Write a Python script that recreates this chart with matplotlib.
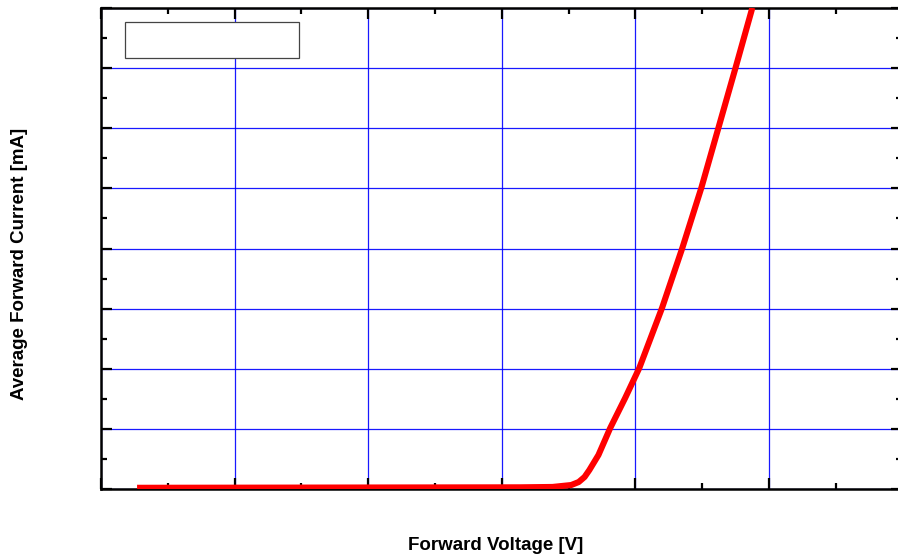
import matplotlib
matplotlib.use('Agg')
import matplotlib.pyplot as plt
from matplotlib.patches import Rectangle
from matplotlib.ticker import MultipleLocator, NullFormatter

plt.rcParams['font.family'] = ['Liberation Sans', 'DejaVu Sans']

# forward characteristic
voltage = [0.135, 1.57, 1.69, 1.76, 1.788, 1.81, 1.828, 1.862, 1.906, 1.962,
           2.015, 2.100, 2.176, 2.247, 2.311, 2.375, 2.438]
current = [0.10, 0.14, 0.17, 0.33, 0.58, 1.00, 1.58, 2.83, 5.07, 7.57,
           10.07, 15.06, 20.05, 25.04, 30.03, 35.02, 40.02]

x_range = (0.0, 3.0)
y_range = (0.0, 40.0)

fig = plt.figure(figsize=(8.98, 5.58), dpi=100)
ax = fig.add_axes([101 / 898, 69 / 558, 801.5 / 898, 481 / 558])

ax.plot(voltage, current, color='#ff0000', lw=4.4, solid_capstyle='butt',
        solid_joinstyle='round', zorder=3)

ax.set_xlim(*x_range)
ax.set_ylim(*y_range)
ax.xaxis.set_major_locator(MultipleLocator(0.5))
ax.xaxis.set_minor_locator(MultipleLocator(0.25))
ax.yaxis.set_major_locator(MultipleLocator(5))
ax.yaxis.set_minor_locator(MultipleLocator(2.5))
ax.xaxis.set_major_formatter(NullFormatter())
ax.yaxis.set_major_formatter(NullFormatter())

ax.grid(True, which='major', color='#0000ff', lw=0.9, alpha=0.9)
ax.set_axisbelow(True)

ax.tick_params(which='both', direction='in', top=True, right=True,
               color='black', width=1.6)
ax.tick_params(which='major', length=8)
ax.tick_params(which='minor', length=4.5)
for s in ax.spines.values():
    s.set_linewidth(1.8)
    s.set_color('black')

# empty legend frame, top left
ax.add_patch(Rectangle((24 / 801.5, 1 - 50 / 481), 174 / 801.5, 36 / 481,
                       transform=ax.transAxes, facecolor='white',
                       edgecolor='#444444', lw=0.9, zorder=4))

fig.text(496 / 898, 1 - 545 / 558, 'Forward Voltage [V]', ha='center',
         va='center', fontsize=13.5, fontweight='bold')
fig.text(20 / 898, 1 - 264 / 558, 'Average Forward Current [mA]',
         ha='center', va='center', rotation=90, fontsize=13.5,
         fontweight='bold')

fig.savefig('out.png', dpi=100)
